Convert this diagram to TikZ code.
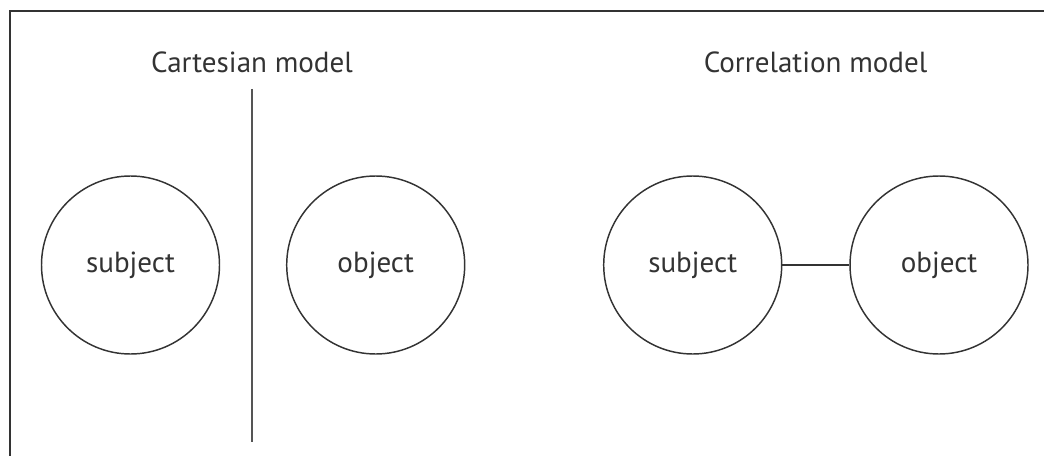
\documentclass[tikz,border=0pt]{standalone}
\usepackage{fontspec}
\setmainfont{PT Sans}
\definecolor{ink}{HTML}{333333}
\definecolor{rule}{HTML}{555555}
\begin{document}
\begin{tikzpicture}[x=0.75pt,y=-0.75pt,
  every node/.style={text=ink},
  ball/.style={circle,draw=ink,line width=1.1pt,minimum size=133.5pt,inner sep=0pt,
    font=\fontsize{21.8}{21.8}\selectfont},
  heading/.style={font=\fontsize{21.8}{21.8}\selectfont,inner sep=0pt,anchor=base},
  link/.style={draw=ink,line width=1.1pt}]
\useasboundingbox (0,0) rectangle (1044,456);
% open frame: top and left edges
\draw[ink,line width=1.1pt] (10,456) -- (10,11) -- (1044,11);

% Cartesian model
\node[heading] (cartTitle) at (252,73) {Cartesian model};
\coordinate (sepTop) at (252,89);
\coordinate (sepBot) at (252,442);
\draw[rule,line width=1.6pt] (sepTop) -- (sepBot);
\node[ball] (cartSubj) at (130.5,265) {subject};
\node[ball] (cartObj) at (375.7,265) {object};

% Correlation model
\node[heading] (corrTitle) at (815.6,73) {Correlation model};
\node[ball] (corrSubj) at (692.7,265) {subject};
\node[ball] (corrObj) at (939,265) {object};
\draw[link] (corrSubj) -- (corrObj);
\end{tikzpicture}
\end{document}
